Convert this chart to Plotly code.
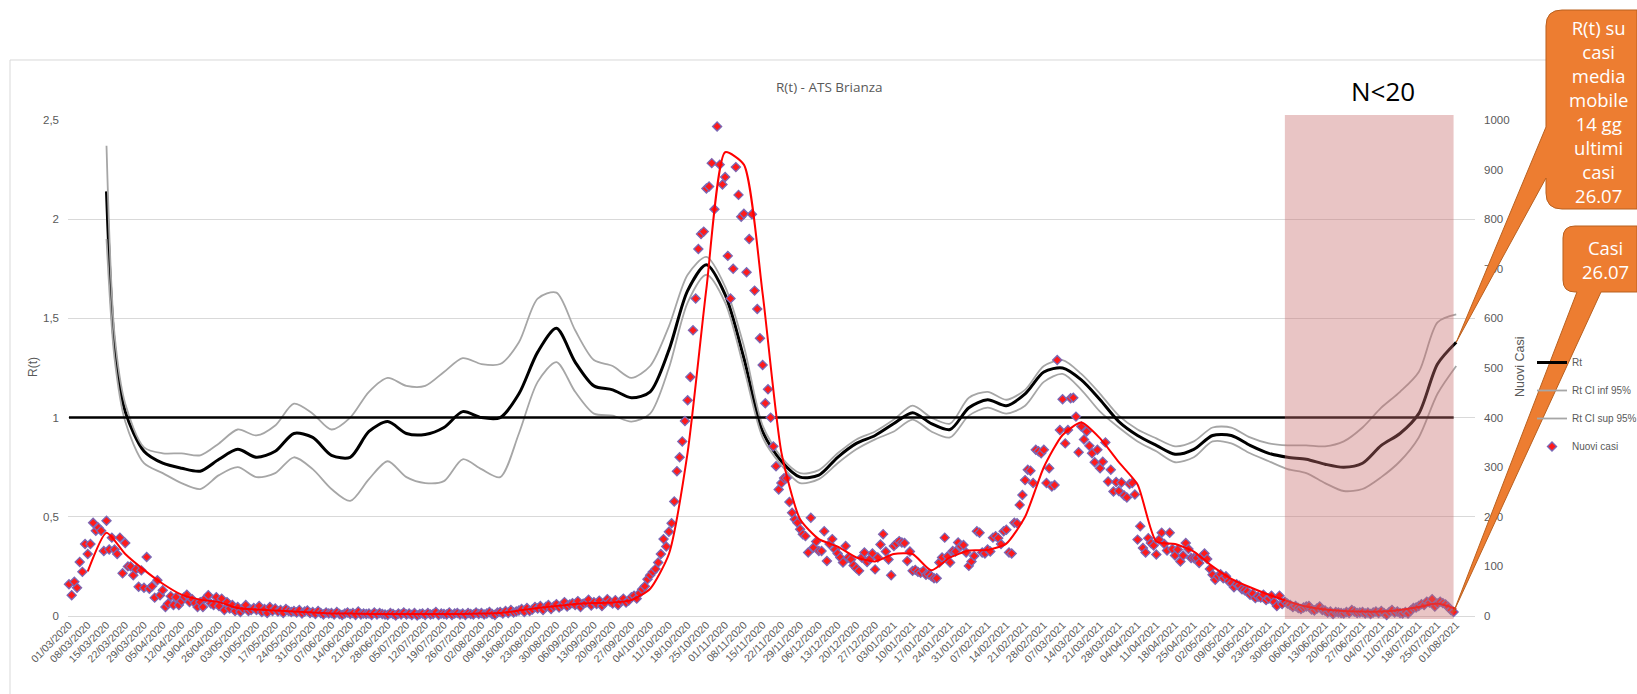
import pandas as pd
import plotly.graph_objects as go

# --- dati (ATS Brianza) ---

# nuovi casi giornalieri, dal 01/03/2020 al 31/07/2021 (una riga = una settimana)
casi = [
    64, 42, 69, 57, 109, 89, 145,
    125, 145, 188, 172, 178, 172, 131,
    192, 134, 158, 134, 125, 158, 86,
    147, 100, 100, 82, 94, 59, 92,
    57, 119, 55, 60, 37, 72, 42,
    52, 18, 25, 40, 22, 38, 22,
    30, 38, 43, 28, 34, 26, 18,
    28, 18, 36, 42, 25, 22, 38,
    20, 35, 12, 28, 15, 22, 10,
    18, 8, 14, 22, 10, 12, 16,
    12, 20, 8, 14, 6, 18, 10,
    15, 9, 12, 6, 14, 10, 8,
    10, 7, 12, 5, 9, 11, 6,
    8, 4, 10, 6, 3, 7, 5,
    6, 3, 8, 4, 2, 5, 7,
    4, 6, 2, 9, 3, 5, 4,
    5, 2, 7, 3, 6, 4, 3,
    2, 6, 4, 1, 5, 3, 7,
    3, 5, 2, 6, 1, 4, 5,
    2, 6, 3, 4, 8, 2, 5,
    4, 3, 7, 2, 5, 6, 3,
    5, 2, 6, 4, 3, 7, 4,
    6, 3, 5, 8, 4, 2, 7,
    8, 5, 10, 6, 12, 7, 9,
    11, 14, 8, 16, 10, 13, 18,
    15, 20, 12, 18, 22, 14, 19,
    24, 17, 21, 28, 19, 23, 26,
    22, 30, 18, 25, 27, 33, 21,
    28, 24, 31, 20, 26, 34, 29,
    25, 32, 22, 30, 35, 27, 31,
    38, 41, 35, 46, 54, 60, 74,
    82, 89, 95, 108, 125, 155, 140,
    170, 187, 231, 292, 320, 352, 393,
    435, 482, 576, 640, 740, 770, 775,
    862, 866, 913, 820, 987, 910, 870,
    885, 726, 640, 700, 905, 849, 805,
    811, 693, 760, 810, 656, 619, 560,
    506, 429, 457, 400, 342, 302, 255,
    268, 278, 278, 230, 208, 195, 188,
    175, 165, 161, 128, 198, 138, 150,
    131, 131, 171, 111, 145, 155, 134,
    126, 118, 108, 141, 118, 114, 102,
    96, 91, 118, 128, 109, 115, 126,
    94, 118, 144, 165, 130, 114, 82,
    141, 146, 151, 148, 147, 111, 130,
    91, 93, 89, 87, 91, 83, 84,
    80, 76, 76, 108, 118, 158, 120,
    108, 131, 130, 148, 141, 143, 128,
    101, 110, 121, 171, 168, 128, 126,
    134, 130, 158, 161, 157, 145, 171,
    174, 128, 126, 188, 187, 224, 244,
    274, 295, 293, 268, 335, 332, 328,
    335, 268, 298, 261, 264, 516, 375,
    437, 348, 375, 439, 440, 402, 330,
    382, 356, 372, 343, 328, 310, 335,
    298, 311, 350, 271, 295, 251, 270,
    252, 269, 243, 239, 266, 268, 245,
    154, 181, 137, 128, 157, 147, 142,
    124, 154, 168, 145, 132, 168, 135,
    122, 134, 110, 122, 147, 135, 117,
    117, 117, 107, 120, 126, 115, 95,
    83, 73, 80, 84, 76, 80, 70,
    66, 58, 64, 61, 54, 52, 49,
    43, 45, 36, 39, 37, 43, 32,
    35, 41, 28, 20, 41, 24, 29,
    25, 22, 18, 20, 16, 14, 17,
    19, 20, 13, 11, 15, 19, 12,
    11, 7, 9, 4, 8, 7, 6,
    5, 8, 6, 12, 9, 6, 7,
    8, 5, 7, 4, 7, 9, 6,
    10, 6, 2, 8, 12, 7, 9,
    6, 5, 8, 5, 11, 16, 17,
    20, 24, 22, 29, 27, 34, 19,
    25, 29, 26, 23, 18, 12, 8,
]
casi_date = pd.date_range("2020-03-01", periods=len(casi), freq="D")

# media mobile dei casi, un valore a settimana dal 08/03/2020
media_mobile = [
    90, 168, 125, 93, 65, 43, 33, 28, 16, 13,
    11, 9, 7, 5, 5, 4, 4, 4, 4, 4,
    4, 5, 6, 11, 16, 20, 24, 26, 27, 32,
    55, 125, 330, 660, 935, 910, 650, 330, 195, 155,
    140, 118, 110, 125, 125, 92, 118, 132, 133, 146,
    200, 300, 365, 390, 358, 310, 265, 150, 145, 130,
    100, 75, 58, 43, 30, 19, 13, 10, 9, 9,
    12, 18, 25, 14,
]
mm_date = pd.date_range("2020-03-08", periods=len(media_mobile), freq="7D")

# R(t) e intervallo di confidenza 95%
rt_date = [pd.Timestamp("2020-03-15"), pd.Timestamp("2020-03-18")] + list(
    pd.date_range("2020-03-22", "2021-08-01", freq="7D"))
rt = [
    2.14, 1.36, 1.03, 0.83, 0.77, 0.745, 0.73, 0.79, 0.84, 0.80,
    0.83, 0.92, 0.90, 0.81, 0.80, 0.93, 0.98, 0.92, 0.915, 0.95,
    1.03, 1.00, 1.00, 1.12, 1.33, 1.45, 1.28, 1.16, 1.14, 1.10,
    1.13, 1.34, 1.64, 1.77, 1.62, 1.30, 0.93, 0.78, 0.70, 0.71,
    0.80, 0.87, 0.91, 0.97, 1.025, 0.97, 0.94, 1.05, 1.09, 1.06,
    1.12, 1.23, 1.25, 1.19, 1.09, 0.98, 0.91, 0.86, 0.815, 0.84,
    0.91, 0.91, 0.86, 0.82, 0.80, 0.79, 0.765, 0.75, 0.77, 0.86,
    0.92, 1.02, 1.27, 1.38,
]
rt_sup = [
    2.37, 1.42, 1.07, 0.85, 0.82, 0.82, 0.81, 0.87, 0.94, 0.91,
    0.96, 1.07, 1.02, 0.94, 1.00, 1.13, 1.20, 1.16, 1.16, 1.23,
    1.30, 1.27, 1.27, 1.38, 1.60, 1.63, 1.44, 1.29, 1.26, 1.20,
    1.26, 1.46, 1.72, 1.81, 1.66, 1.36, 0.96, 0.80, 0.72, 0.735,
    0.82, 0.89, 0.93, 0.99, 1.06, 1.00, 0.97, 1.10, 1.13, 1.09,
    1.14, 1.26, 1.29, 1.22, 1.12, 1.01, 0.94, 0.895, 0.855, 0.88,
    0.95, 0.95, 0.90, 0.87, 0.86, 0.86, 0.855, 0.88, 0.95, 1.05,
    1.13, 1.23, 1.48, 1.52,
]
rt_inf = [
    1.90, 1.30, 0.98, 0.77, 0.72, 0.67, 0.64, 0.71, 0.75, 0.70,
    0.72, 0.80, 0.74, 0.64, 0.58, 0.69, 0.78, 0.70, 0.67, 0.68,
    0.79, 0.74, 0.70, 0.92, 1.18, 1.28, 1.13, 1.02, 1.01, 0.98,
    1.02, 1.25, 1.58, 1.72, 1.58, 1.25, 0.90, 0.76, 0.67, 0.69,
    0.77, 0.84, 0.89, 0.93, 0.99, 0.93, 0.90, 1.01, 1.05, 1.02,
    1.06, 1.18, 1.22, 1.14, 1.03, 0.95, 0.88, 0.83, 0.775, 0.80,
    0.88, 0.87, 0.82, 0.78, 0.74, 0.72, 0.67, 0.63, 0.64, 0.70,
    0.78, 0.90, 1.12, 1.26,
]

soglia_date = ["2020-03-01", "2021-07-31"]
soglia = [1, 1]

zona_n20 = ["2021-05-29", "2021-07-31"]

tick_date = pd.date_range("2020-03-01", "2021-08-01", freq="7D")
tick_text = [d.strftime("%d/%m/%Y") for d in tick_date]
rt_tick = [0, 0.5, 1, 1.5, 2, 2.5]
rt_tick_text = ["0", "0,5", "1", "1,5", "2", "2,5"]
casi_tick = [0, 100, 200, 300, 400, 500, 600, 700, 800, 900, 1000]

# --- geometria in pixel ---
W, H = 1637, 694
L, R, T, B = 68, 162, 120, 78
x_start = pd.Timestamp("2020-03-01") - pd.Timedelta(hours=9)
x_end = pd.Timestamp("2021-08-08")


def px(x):
    return (x - L) / (W - L - R)


def py(y):
    return (H - B - y) / (H - T - B)


def pt(x, y):
    return f"{px(x):.5f},{py(y):.5f}"


def data_px(d, v, vmax):
    frac = (pd.Timestamp(d) - x_start) / (x_end - x_start)
    return L + frac * (W - L - R), (H - B) - v / vmax * (H - T - B)


grigio = "#595959"
fnt = "Liberation Sans, Arial, sans-serif"

fig = go.Figure()
fig.add_trace(go.Scatter(x=rt_date, y=rt, mode="lines", name="Rt",
                         line=dict(color="black", width=3, shape="spline", smoothing=0.8),
                         legendrank=1, legendgroup="a"))
fig.add_trace(go.Scatter(x=rt_date, y=rt_inf, mode="lines", name="Rt CI inf 95%",
                         line=dict(color="#A6A6A6", width=1.8, shape="spline", smoothing=0.8),
                         legendrank=2, legendgroup="b"))
fig.add_trace(go.Scatter(x=rt_date, y=rt_sup, mode="lines", name="Rt CI sup 95%",
                         line=dict(color="#A6A6A6", width=1.8, shape="spline", smoothing=0.8),
                         legendrank=3, legendgroup="c"))
fig.add_trace(go.Scatter(x=soglia_date, y=soglia, mode="lines", showlegend=False,
                         line=dict(color="black", width=2.5)))
fig.add_trace(go.Scatter(x=casi_date, y=casi, mode="markers", name="Nuovi casi", yaxis="y2",
                         marker=dict(symbol="diamond", size=7, color="#FF1A1A",
                                     line=dict(color="#7B68B5", width=1.3)),
                         cliponaxis=False, legendrank=4, legendgroup="d"))
fig.add_trace(go.Scatter(x=mm_date, y=media_mobile, mode="lines", yaxis="y2", showlegend=False,
                         line=dict(color="#FF0000", width=2, shape="spline", smoothing=0.6)))

# callout arancioni (tagliati sul bordo destro come nell'originale)
tx1, ty1 = data_px(rt_date[-1], rt[-1], 2.5)
tx2, ty2 = data_px(casi_date[-1], casi[-1], 1000)

bx0, by0, bx1, by1, r = 1546, 10, 1637, 209, 16
call1 = (f"M {pt(bx0 + r, by0)} L {pt(bx1, by0)} L {pt(bx1, by1)} L {pt(bx0 + r, by1)} "
         f"Q {pt(bx0, by1)} {pt(bx0, by1 - r)} L {pt(bx0, 178)} L {pt(tx1, ty1)} "
         f"L {pt(bx0, 127)} L {pt(bx0, by0 + r)} Q {pt(bx0, by0)} {pt(bx0 + r, by0)} Z")

cx0, cy0, cx1, cy1, r2 = 1563, 226, 1637, 292, 12
call2 = (f"M {pt(cx0 + r2, cy0)} L {pt(cx1, cy0)} L {pt(cx1, cy1)} L {pt(1601, cy1)} "
         f"L {pt(tx2, ty2)} L {pt(1577, cy1)} L {pt(cx0 + r2, cy1)} "
         f"Q {pt(cx0, cy1)} {pt(cx0, cy1 - r2)} L {pt(cx0, cy0 + r2)} Q {pt(cx0, cy0)} {pt(cx0 + r2, cy0)} Z")

cornice = f"M {pt(10, 694)} L {pt(10, 60)} L {pt(1636, 60)}"

shapes = [
    dict(type="path", xref="paper", yref="paper", path=cornice,
         line=dict(color="#D9D9D9", width=1), layer="below"),
    dict(type="rect", xref="x", yref="paper", x0=zona_n20[0], x1=zona_n20[1], y0=py(619), y1=py(115),
         fillcolor="rgba(200,110,110,0.4)", line=dict(width=0), layer="above"),
    dict(type="path", xref="paper", yref="paper", path=call1, fillcolor="#ED7D31",
         line=dict(color="#B9601F", width=1), layer="above"),
    dict(type="path", xref="paper", yref="paper", path=call2, fillcolor="#ED7D31",
         line=dict(color="#B9601F", width=1), layer="above"),
]


def testo(t, x, y, size, color, family=fnt, angle=0):
    return dict(text=t, x=px(x), y=py(y), xref="paper", yref="paper", showarrow=False,
                xanchor="center", yanchor="middle", textangle=angle,
                font=dict(family=family, size=size, color=color))


annotations = [
    testo("R(t) - ATS Brianza", 829, 87, 13.5, grigio, "Open Sans, sans-serif"),
    testo("N<20", 1383, 91, 26, "black", "Open Sans, sans-serif"),
    testo("R(t)", 33, 367, 12, grigio, angle=-90),
    testo("Nuovi Casi", 1520, 367, 12.5, grigio, angle=-90),
    testo("R(t) su<br>casi<br>media<br>mobile<br>14 gg<br>ultimi<br>casi<br>26.07",
          1598, 111, 18.5, "white", "Open Sans, sans-serif"),
    testo("Casi<br>26.07", 1605, 259.5, 18.5, "white", "Open Sans, sans-serif"),
]

fig.update_layout(
    width=W, height=H, autosize=False,
    margin=dict(l=L, r=R, t=T, b=B, pad=0, autoexpand=False),
    paper_bgcolor="white", plot_bgcolor="white",
    font=dict(family=fnt, color=grigio),
    showlegend=True,
    legend=dict(x=px(1532), y=py(348), xanchor="left", yanchor="top",
                bgcolor="rgba(0,0,0,0)", font=dict(family=fnt, size=10, color=grigio),
                tracegroupgap=9, itemwidth=30),
    xaxis=dict(type="date", range=[x_start, x_end], tickvals=tick_date, ticktext=tick_text,
               tickangle=-45, showgrid=False, zeroline=False, showline=False, ticks="",
               tickfont=dict(size=10.5, color=grigio), automargin=False),
    yaxis=dict(range=[0, 2.5], tickvals=rt_tick, ticktext=rt_tick_text, showgrid=True,
               gridcolor="#D9D9D9", gridwidth=1, zeroline=True, zerolinecolor="#D9D9D9",
               zerolinewidth=1, showline=False, ticks="", ticklabelstandoff=8,
               tickfont=dict(size=11.5, color=grigio), automargin=False),
    yaxis2=dict(range=[0, 1000], overlaying="y", side="right", tickvals=casi_tick,
                showgrid=False, zeroline=False, showline=False, ticks="", ticklabelstandoff=8,
                tickfont=dict(size=11.5, color=grigio), automargin=False),
    shapes=shapes,
    annotations=annotations,
)

fig.write_html("out.html", config={"displayModeBar": False, "responsive": False},
               post_script="document.body.style.margin='0';document.body.style.overflow='hidden';")
